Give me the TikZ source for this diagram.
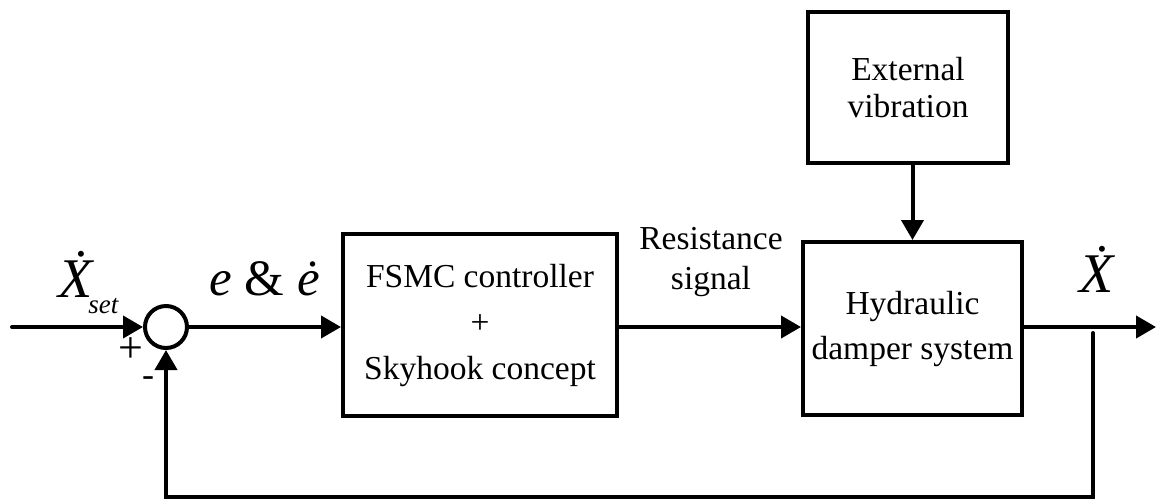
\documentclass[tikz,border=0pt]{standalone}
\usepackage{fontspec}
\setmainfont{Liberation Serif}
\usetikzlibrary{arrows.meta}
\begin{document}
\begin{tikzpicture}[x=0.5pt,y=-0.5pt,
  blk/.style={draw, line width=2pt, inner sep=0pt, align=center,
              font=\fontsize{16.75}{23}\selectfont},
  wire/.style={line width=2pt},
  arr/.style={wire, -{Triangle[length=10pt,width=11pt]}},
  lbl/.style={inner sep=0pt, anchor=base west}]
\useasboundingbox (0,0) rectangle (1156,499);

% blocks
\node[draw, circle, line width=2pt, minimum size=21pt, inner sep=0pt] (sum) at (166,327) {};
\node[blk, minimum width=137pt, minimum height=91pt] (ctrl) at (480,325)
  {FSMC controller\\+\\Skyhook concept};
\node[blk, minimum width=109.5pt, minimum height=86.5pt,
      font=\fontsize{16.75}{22.5}\selectfont] (plant) at (912.5,328.5)
  {Hydraulic\\damper system};
\node[blk, minimum width=100pt, minimum height=75.5pt,
      font=\fontsize{16.75}{18.5}\selectfont] (dist) at (908,87.5)
  {External\\vibration};

% signal labels
\node[lbl, font=\fontsize{28}{28}\selectfont\itshape] (xset) at (58,297) {\.{X}};
\node[lbl, font=\fontsize{13.5}{13.5}\selectfont\itshape] (sub) at (88,313) {set};
\node[lbl, font=\fontsize{25.5}{25.5}\selectfont] (err) at (209,295) {\textit{e} \& \textit{\.{e}}};
\node[lbl, font=\fontsize{28}{28}\selectfont\itshape] (xout) at (1079,292) {\.{X}};
\node[inner sep=0pt, align=center, font=\fontsize{16.75}{20}\selectfont] (sig) at (711,262)
  {Resistance\\signal};
\node[inner sep=0pt, font=\fontsize{22}{22}\selectfont] (plus) at (131,350) {+};
\node[inner sep=0pt, font=\fontsize{18}{18}\selectfont] (minus) at (148,382) {-};

% connectors
\coordinate (in) at (12,327);
\coordinate (out) at (1156,327);
\coordinate (tap) at (1093,333);
\coordinate (fb) at (1093,497);
\draw[arr, line cap=round] (in) -- (sum.west);
\draw[arr] (sum.east) -- (sum.east -| ctrl.west);
\draw[arr] (ctrl.east |- sum.center) -- (plant.west |- sum.center);
\draw[arr] (plant.east |- sum.center) -- (out);
\draw[arr] (plant.north |- dist.south) -- (plant.north);
\draw[arr, line cap=round] (tap) -- (fb) -| (sum.south);
\end{tikzpicture}
\end{document}
